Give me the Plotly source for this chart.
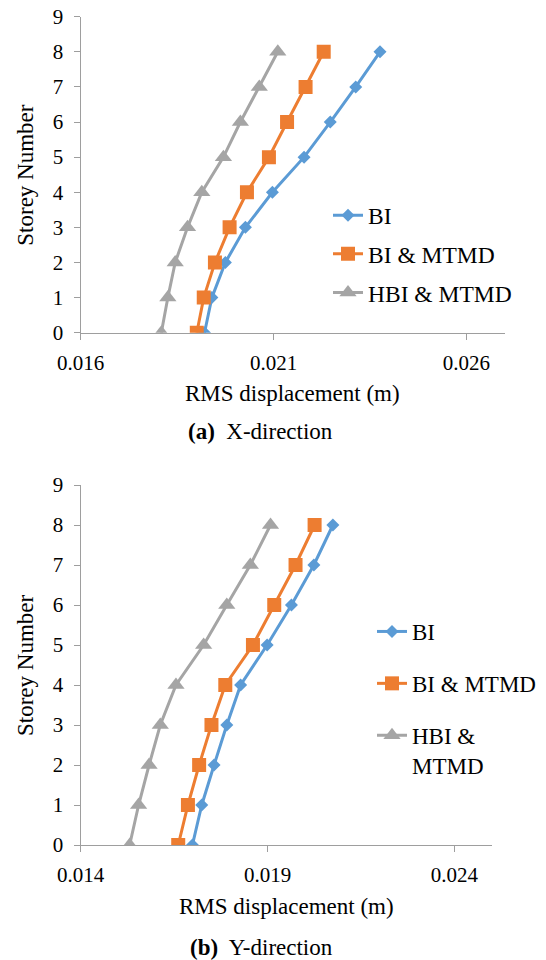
import plotly.graph_objects as go

storeys = [0, 1, 2, 3, 4, 5, 6, 7, 8]

# (a) X-direction RMS displacement (m)
x_bi = [0.01921, 0.0194, 0.01975, 0.02027, 0.02097, 0.02179, 0.02247, 0.02313, 0.02376]
x_bi_mtmd = [0.01901, 0.01919, 0.01948, 0.01986, 0.02031, 0.02088, 0.02135, 0.02183, 0.0223]
x_hbi_mtmd = [0.01809, 0.01826, 0.01845, 0.01877, 0.01914, 0.0197, 0.02014, 0.02063, 0.02111]

# (b) Y-direction RMS displacement (m)
y_bi = [0.01699, 0.01724, 0.01757, 0.01791, 0.01828, 0.01899, 0.01964, 0.02024, 0.02075]
y_bi_mtmd = [0.01661, 0.01687, 0.01717, 0.0175, 0.01787, 0.01861, 0.01918, 0.01975, 0.02026]
y_hbi_mtmd = [0.01531, 0.01555, 0.01583, 0.01613, 0.01655, 0.01729, 0.01791, 0.01854, 0.01908]

names_top = ["BI", "BI & MTMD", "HBI & MTMD"]
names_bottom = ["BI", "BI & MTMD", "HBI &<br>MTMD"]

colors = ["#5B9BD5", "#ED7D31", "#A5A5A5"]
symbols = ["diamond", "square", "triangle-up"]
msizes = [10, 14, 15]

FONT = "Liberation Serif, Times New Roman, serif"
W, H = 546, 960

fig = go.Figure()

top_series = [x_bi, x_bi_mtmd, x_hbi_mtmd]
bot_series = [y_bi, y_bi_mtmd, y_hbi_mtmd]

for i in range(3):
    fig.add_trace(go.Scatter(
        x=top_series[i], y=storeys, mode="lines+markers", name=names_top[i],
        line=dict(color=colors[i], width=3),
        marker=dict(symbol=symbols[i], size=msizes[i], color=colors[i]),
        xaxis="x", yaxis="y", legend="legend", legendgroup="t%d" % i,
    ))
for i in range(3):
    fig.add_trace(go.Scatter(
        x=bot_series[i], y=storeys, mode="lines+markers", name=names_bottom[i],
        line=dict(color=colors[i], width=3),
        marker=dict(symbol=symbols[i], size=msizes[i], color=colors[i]),
        xaxis="x2", yaxis="y2", legend="legend2", legendgroup="b%d" % i,
    ))

axcol = "#9E9E9E"
TICKF = dict(family=FONT, size=21, color="black")
common_x = dict(showgrid=False, zeroline=False, showline=True, linecolor=axcol, linewidth=1.3,
                ticks="outside", tickcolor=axcol, ticklen=6, tickwidth=1.3, automargin=False,
                tickfont=TICKF, ticklabelstandoff=5, ticklabeloverflow="allow")
common_y = dict(showgrid=False, zeroline=False, showline=True, linecolor=axcol, linewidth=1.3,
                ticks="outside", tickcolor=axcol, ticklen=6, tickwidth=1.3, automargin=False,
                tickfont=TICKF, ticklabelstandoff=6, ticklabeloverflow="allow",
                range=[0, 9], dtick=1, tick0=0)

# screen pixel -> paper coordinate (page body margin removed below)
def px_x(p):
    return p / W

def px_y(p):
    return (H - p) / H

fig.update_layout(
    width=W, height=H,
    margin=dict(l=0, r=0, t=0, b=0, autoexpand=False),
    paper_bgcolor="white", plot_bgcolor="white",
    font=dict(family=FONT, size=23, color="black"),
    xaxis=dict(domain=[px_x(80.7), px_x(505)], range=[0.016, 0.027], tick0=0.016, dtick=0.005,
               tickformat=".3f", anchor="y", **common_x),
    yaxis=dict(domain=[px_y(332.7), px_y(16.7)], anchor="x", **common_y),
    xaxis2=dict(domain=[px_x(80.7), px_x(491.7)], range=[0.014, 0.025], tick0=0.014, dtick=0.005,
                tickformat=".3f", anchor="y2", **common_x),
    yaxis2=dict(domain=[px_y(845), px_y(485)], anchor="x2", **common_y),
    legend=dict(x=px_x(328), y=px_y(193.5), xanchor="left", yanchor="top",
                font=dict(family=FONT, size=23.5), tracegroupgap=5, bgcolor="rgba(0,0,0,0)"),
    legend2=dict(x=px_x(372), y=px_y(610), xanchor="left", yanchor="top",
                 font=dict(family=FONT, size=23), tracegroupgap=19, valign="top",
                 bgcolor="rgba(0,0,0,0)"),
    showlegend=True,
)

annos = [
    dict(text="Storey Number", x=px_x(26), y=px_y(174.7), textangle=-90),
    dict(text="Storey Number", x=px_x(26), y=px_y(665), textangle=-90),
    dict(text="RMS displacement (m)", x=px_x(292), y=px_y(393)),
    dict(text="RMS displacement (m)", x=px_x(286.4), y=px_y(906)),
    dict(text="<b>(a)</b>  X-direction", x=px_x(260.5), y=px_y(432)),
    dict(text="<b>(b)</b>  Y-direction", x=px_x(261.5), y=px_y(947)),
]
for a in annos:
    fig.add_annotation(xref="paper", yref="paper", showarrow=False,
                       xanchor="center", yanchor="middle",
                       font=dict(family=FONT, size=23, color="black"), **a)

fig.write_html("out.html", config={"displayModeBar": False},
               post_script="document.body.style.margin='0';document.body.style.overflow='hidden';")
